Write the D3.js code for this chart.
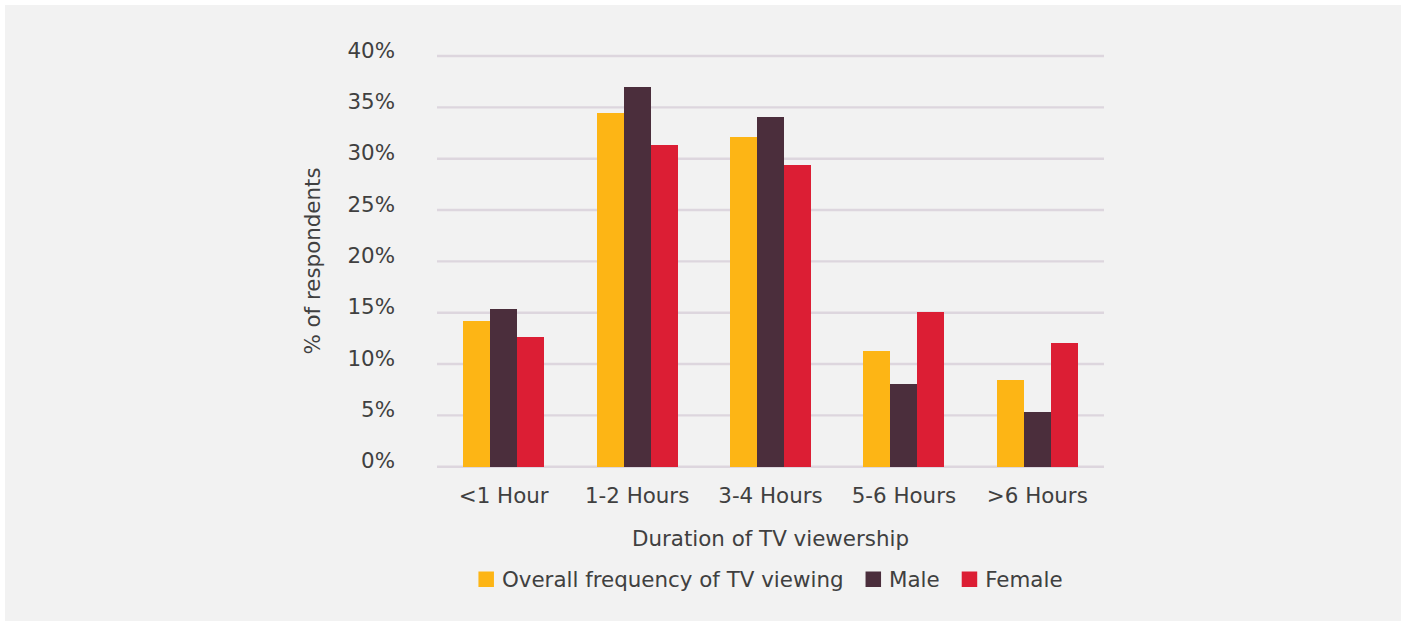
<!DOCTYPE html>
<html>
<head>
<meta charset="utf-8">
<script src="https://cdn.jsdelivr.net/npm/d3@7"></script>
<style>
  html, body { margin: 0; padding: 0; background: #ffffff; }
  svg { display: block; }
  text { font-family: Verdana, "DejaVu Sans", sans-serif; fill: #404040; }
</style>
</head>
<body>
<svg id="chart" width="1407" height="624"></svg>
<script>
const categories = ["<1 Hour", "1-2 Hours", "3-4 Hours", "5-6 Hours", ">6 Hours"];
const seriesNames = ["Overall frequency of TV viewing", "Male", "Female"];
const overall = [14.2, 34.4, 32.1, 11.3, 8.4];
const male = [15.4, 37.0, 34.1, 8.1, 5.3];
const female = [12.6, 31.3, 29.4, 15.1, 12.0];
const seriesColors = ["#fdb515", "#4b2e3c", "#dc1e34"];
const yTicks = [0, 5, 10, 15, 20, 25, 30, 35, 40];
const xTitle = "Duration of TV viewership";
const yTitle = "% of respondents";

const seriesValues = [overall, male, female];

const svg = d3.select("#chart");
const W = 1407, H = 624;
const FS = 21.4;

svg.append("rect").attr("x", 0).attr("y", 0).attr("width", W).attr("height", H).attr("fill", "#ffffff");
svg.append("rect").attr("x", 5).attr("y", 5).attr("width", 1396).attr("height", 616).attr("fill", "#f2f2f2");

const plotLeft = 437, plotRight = 1104, plotTop = 56, plotBottom = 466.7;

const x = d3.scaleBand().domain(categories).range([plotLeft, plotRight])
  .paddingInner(0.393).paddingOuter(0.1965);
const xs = d3.scaleBand().domain(seriesNames).range([0, x.bandwidth()]);
const y = d3.scaleLinear().domain([0, 40]).range([plotBottom, plotTop]);

// gridlines
svg.append("g").selectAll("line").data(yTicks).join("line")
  .attr("x1", plotLeft).attr("x2", plotRight)
  .attr("y1", d => y(d)).attr("y2", d => y(d))
  .attr("stroke", "#ddd6de").attr("stroke-width", 2.4);

// y tick labels
svg.append("g").selectAll("text").data(yTicks).join("text")
  .attr("x", 395).attr("y", d => y(d) + 1.5)
  .attr("text-anchor", "end")
  .attr("font-size", FS)
  .text(d => d + "%");

// bars
const barsG = svg.append("g").attr("shape-rendering", "crispEdges");
categories.forEach((c, ci) => {
  seriesNames.forEach((s, si) => {
    const v = seriesValues[si][ci];
    const x0 = Math.round(x(c) + xs(s));
    const x1 = Math.round(x(c) + xs(s) + xs.bandwidth());
    barsG.append("rect")
      .attr("x", x0)
      .attr("y", y(v))
      .attr("width", x1 - x0)
      .attr("height", y(0) - y(v))
      .attr("fill", seriesColors[si]);
  });
});

// x labels
svg.append("g").selectAll("text").data(categories).join("text")
  .attr("x", d => x(d) + x.bandwidth() / 2)
  .attr("y", 503.3)
  .attr("text-anchor", "middle")
  .attr("font-size", FS)
  .text(d => d);

// axis titles
svg.append("text")
  .attr("x", (plotLeft + plotRight) / 2).attr("y", 546)
  .attr("text-anchor", "middle").attr("font-size", FS)
  .text(xTitle);

svg.append("text")
  .attr("transform", "translate(320,261) rotate(-90)")
  .attr("text-anchor", "middle").attr("font-size", FS)
  .text(yTitle);

// legend
const legend = svg.append("g");
const sw = 15.5, gapSwText = 8, gapItems = 22;
let cursor = 0;
seriesNames.forEach((s, i) => {
  const g = legend.append("g");
  g.append("rect").attr("x", cursor).attr("y", 571.5).attr("width", sw).attr("height", sw)
    .attr("fill", seriesColors[i]);
  const t = g.append("text").attr("x", cursor + sw + gapSwText).attr("y", 586.7)
    .attr("font-size", FS).text(s);
  const tw = t.node().getComputedTextLength();
  cursor += sw + gapSwText + tw + gapItems;
});
const totalW = cursor - gapItems;
legend.attr("transform", `translate(${(plotLeft + plotRight) / 2 - totalW / 2},0)`);
</script>
</body>
</html>
